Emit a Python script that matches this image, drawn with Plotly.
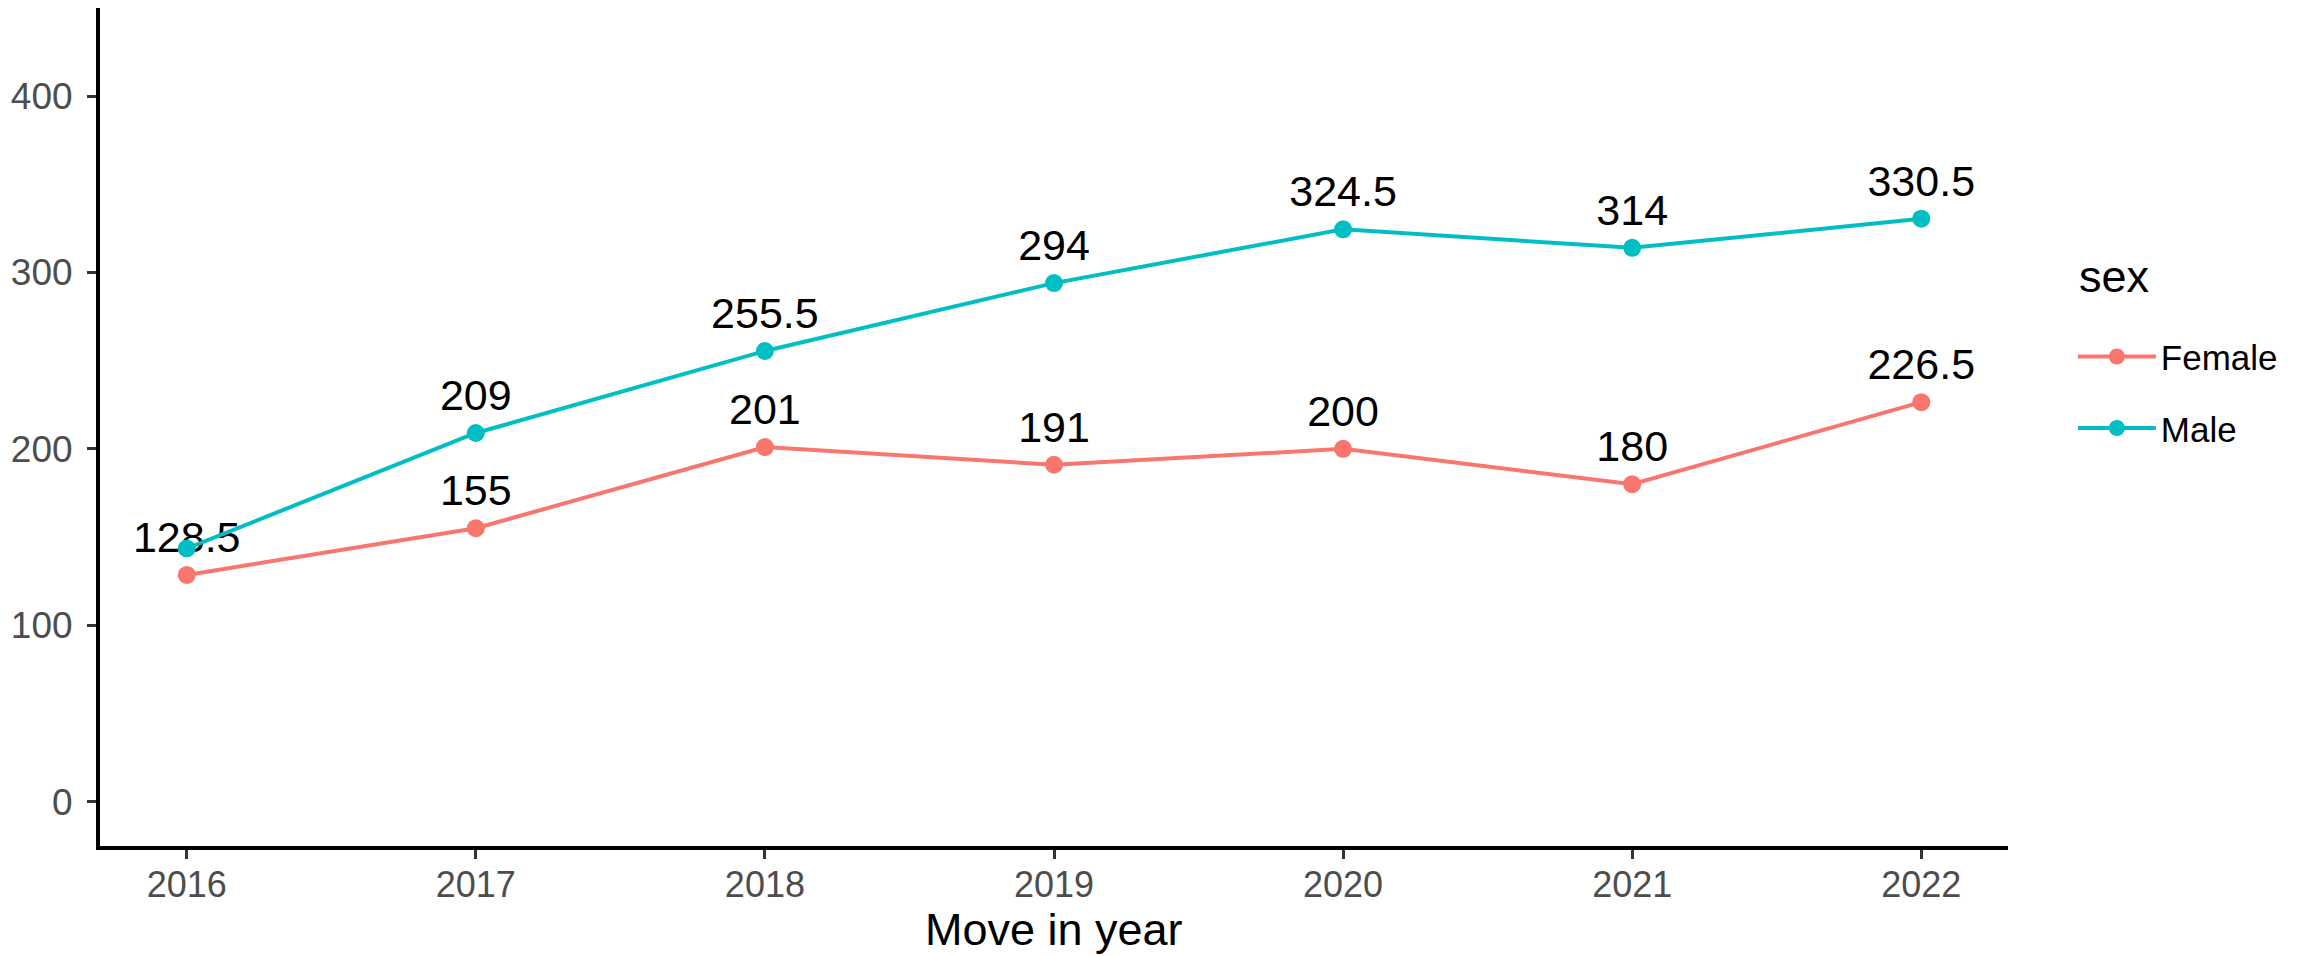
import plotly.graph_objects as go

years = [2016, 2017, 2018, 2019, 2020, 2021, 2022]
female = [128.5, 155, 201, 191, 200, 180, 226.5]
male = [143.5, 209, 255.5, 294, 324.5, 314, 330.5]
# labels hidden by overlap in the original (check_overlap)
male_label_hidden = [True, False, False, False, False, False, False]
y_ticks = [0, 100, 200, 300, 400]


def fmt(v):
    return f"{v:g}"


female_text = [fmt(v) for v in female]
male_text = ["" if h else fmt(v) for v, h in zip(male, male_label_hidden)]

FONT = "Liberation Sans, Arial, sans-serif"
C_F = "#F8766D"
C_M = "#00BFC4"
LBL = dict(size=43, color="black", family=FONT)

fig = go.Figure()
fig.add_trace(go.Scatter(
    x=years, y=female, name="Female", mode="lines+markers+text",
    text=female_text, textposition="top center", textfont=LBL,
    line=dict(color=C_F, width=4), marker=dict(size=18, color=C_F),
    legendgroup="f",
))
fig.add_trace(go.Scatter(
    x=years, y=male, name="Male", mode="lines+markers+text",
    text=male_text, textposition="top center", textfont=LBL,
    line=dict(color=C_M, width=4), marker=dict(size=18, color=C_M),
    legendgroup="m",
))

fig.update_layout(
    width=2323, height=956,
    paper_bgcolor="white", plot_bgcolor="white",
    margin=dict(l=92, r=323, t=0, b=118, autoexpand=False),
    font=dict(family=FONT),
    showlegend=True,
    legend=dict(
        font=dict(size=35, color="black", family=FONT),
        x=1.034, xanchor="left", y=0.619, yanchor="top",
        tracegroupgap=23, itemwidth=78,
        bgcolor="rgba(0,0,0,0)",
    ),
    xaxis=dict(
        range=[2015.7, 2022.3], tickmode="array", tickvals=years,
        ticktext=[str(y) for y in years],
        showgrid=False, zeroline=False,
        showline=True, linecolor="black", linewidth=4,
        ticks="outside", ticklen=9, tickwidth=3, tickcolor="#333333",
        tickfont=dict(size=36, color="#4D4D4D", family=FONT),
        ticklabelstandoff=-5,
    ),
    yaxis=dict(
        range=[-25.2, 450], tickmode="array", tickvals=y_ticks,
        ticktext=[str(t) for t in y_ticks],
        showgrid=False, zeroline=False,
        showline=True, linecolor="black", linewidth=4,
        ticks="outside", ticklen=9, tickwidth=3, tickcolor="#333333",
        tickfont=dict(size=37, color="#4D4D4D", family=FONT),
        ticklabelstandoff=7,
    ),
    annotations=[
        dict(text="Move in year", xref="paper", yref="paper", x=0.5, y=-0.1002,
             xanchor="center", yanchor="middle", showarrow=False,
             font=dict(size=45, color="black", family=FONT)),
        dict(text="sex", xref="paper", yref="paper", x=1.036, y=0.679,
             xanchor="left", yanchor="middle", showarrow=False,
             font=dict(size=45, color="black", family=FONT)),
    ],
)

fig.write_html("out.html")
